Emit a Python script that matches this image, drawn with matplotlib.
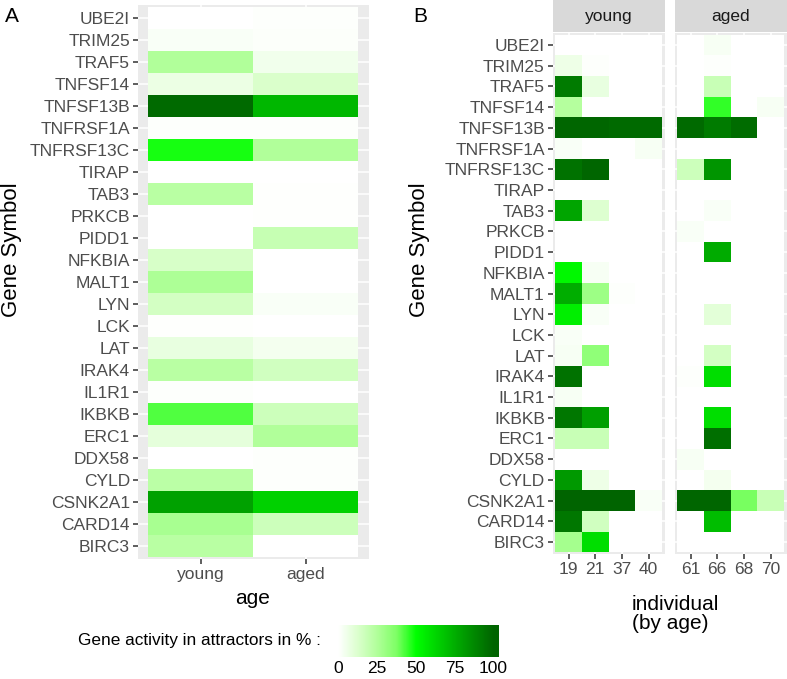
import numpy as np
import matplotlib
matplotlib.use("Agg")
import matplotlib.pyplot as plt
from matplotlib.colors import LinearSegmentedColormap, Normalize

plt.rcParams["font.family"] = ["Liberation Sans", "DejaVu Sans"]

# genes as shown top to bottom
genes = ["UBE2I", "TRIM25", "TRAF5", "TNFSF14", "TNFSF13B", "TNFRSF1A",
         "TNFRSF13C", "TIRAP", "TAB3", "PRKCB", "PIDD1", "NFKBIA", "MALT1",
         "LYN", "LCK", "LAT", "IRAK4", "IL1R1", "IKBKB", "ERC1", "DDX58",
         "CYLD", "CSNK2A1", "CARD14", "BIRC3"]
ages = ["young", "aged"]

# panel A: mean activity (%) per age group
young_mean = [0, 2, 25, 7, 98, 1, 48, 0, 23, 0, 0, 14, 26, 15, 0.5, 8, 23, 1,
              42, 9, 0, 22, 79, 27, 23]
aged_mean = [1, 1.5, 5, 13, 72, 1, 25, 0, 0.5, 0.5, 19, 0, 0, 2, 0, 4, 16, 0,
             17, 25, 1, 1, 64, 17, 0]

# panel B: activity per individual
young_ids = ["19", "21", "37", "40"]
aged_ids = ["61", "66", "68", "70"]
young_ind = [
    [0, 0, 0, 0], [6, 1, 0, 0], [92, 8, 0, 0], [24, 0, 0, 0],
    [99, 99, 98, 98], [2, 0, 0, 3], [95, 99, 0, 0], [0, 0, 0, 0],
    [78, 12, 0, 0], [0, 0, 0, 0], [0, 0, 0, 0], [52, 3, 0, 0],
    [75, 30, 1, 0], [55, 2, 0, 0], [2, 0, 0, 0], [3, 33, 0, 0],
    [95, 0, 0, 0], [3, 0, 0, 0], [93, 80, 0, 0], [18, 18, 0, 0],
    [0, 0, 0, 0], [82, 6, 0, 0], [100, 100, 100, 2], [93, 16, 0, 0],
    [28, 60, 0, 0]]
aged_ind = [
    [0, 3, 0, 0], [0, 1, 0, 0], [0, 18, 0, 0], [0, 45, 0, 3],
    [98, 92, 97, 0], [0, 0, 0, 0], [17, 83, 0, 0], [0, 0, 0, 0],
    [0, 2, 0, 0], [2, 0, 0, 0], [0, 76, 0, 0], [0, 0, 0, 0],
    [0, 0, 0, 0], [0, 10, 0, 0], [0, 0, 0, 0], [0, 15, 0, 0],
    [1, 60, 0, 0], [0, 0, 0, 0], [0, 60, 0, 0], [0, 96, 0, 0],
    [3, 0, 0, 0], [0, 4, 0, 0], [99, 99, 38, 18], [0, 70, 0, 0],
    [0, 0, 0, 0]]

# white -> green -> darkgreen, roughly like ggplot's Lab interpolation
cmap = LinearSegmentedColormap.from_list("grn", [
    (0, "#ffffff"), (0.125, "#dbffcd"), (0.25, "#b1ff9a"), (0.375, "#7dff64"),
    (0.5, "#00ff00"), (0.625, "#00d600"), (0.75, "#00ae00"), (0.875, "#008800"),
    (1, "#006400")])
norm = Normalize(0, 100)

W, H = 787, 679
fig = plt.figure(figsize=(W / 100, H / 100), dpi=100)


def box(l, t, r, b):
    return [l / W, 1 - b / H, (r - l) / W, (b - t) / H]


n = len(genes)
ypos = np.arange(n, 0, -1)  # UBE2I on top


def tiles(ax, mat):
    mat = np.array(mat, dtype=float)
    ncol = mat.shape[1]
    xe = np.arange(ncol + 1) + 0.5
    ye = np.arange(n + 1) + 0.5
    # flip so row 0 (UBE2I) ends up at top
    ax.pcolormesh(xe, ye, mat[::-1], cmap=cmap, norm=norm)
    ax.set_facecolor("#EBEBEB")
    ax.grid(True, color="white", lw=1.1)
    ax.set_axisbelow(True)
    for s in ax.spines.values():
        s.set_visible(False)
    ax.set_xlim(0.4, ncol + 0.6)
    ax.set_ylim(0.4, n + 0.6)
    ax.tick_params(length=3.5, width=1.1, color="#333333", labelcolor="#4D4D4D",
                   labelsize=12.5, pad=2)
    ax.set_xticks(np.arange(1, ncol + 1))
    ax.set_yticks(ypos)


# ---- panel A
axA = fig.add_axes(box(137.6, 4.8, 369, 559))
tiles(axA, np.column_stack([young_mean, aged_mean]))
axA.set_xticklabels(ages)
axA.set_yticklabels(genes)

# ---- panel B (faceted by age group)
axY = fig.add_axes(box(552.5, 32.6, 664.5, 554.4))
tiles(axY, young_ind)
axY.set_xticklabels(young_ids)
axY.set_yticklabels(genes)

axO = fig.add_axes(box(674.5, 32.6, 786.5, 554.4))
tiles(axO, aged_ind)
axO.set_xticklabels(aged_ids)
axO.set_yticklabels([])
axO.tick_params(axis="y", length=0)

# facet strips
for (l, r), lab in zip([(552.5, 664.5), (674.5, 786.5)], ages):
    sax = fig.add_axes(box(l, 0, r, 32))
    sax.set_facecolor("#D9D9D9")
    sax.set_xticks([])
    sax.set_yticks([])
    for s in sax.spines.values():
        s.set_visible(False)
    sax.text(0.5, 0.5, lab, ha="center", va="center", fontsize=12.5,
             color="#1A1A1A", transform=sax.transAxes)

# axis titles and panel tags
fig.text(12 / W, 1 - 250 / H, "Gene Symbol", rotation=90, ha="center",
         va="center", fontsize=16)
fig.text(420 / W, 1 - 250 / H, "Gene Symbol", rotation=90, ha="center",
         va="center", fontsize=16)
fig.text(253 / W, 1 - 598 / H, "age", ha="center", va="center", fontsize=15)
fig.text(632 / W, 1 - 614 / H, "individual\n(by age)", ha="left",
         va="center", fontsize=15, linespacing=0.95)
fig.text(5 / W, 1 - 16 / H, "A", ha="left", va="center", fontsize=15)
fig.text(413 / W, 1 - 16 / H, "B", ha="left", va="center", fontsize=15)

# ---- colour bar legend
cax = fig.add_axes(box(335, 625, 498, 657))
grad = np.linspace(-2, 103, 300)
cax.imshow(grad[None, :], extent=(-2, 103, 0, 1), aspect="auto", cmap=cmap,
           norm=norm)
cax.set_xlim(-2, 103)
cax.set_yticks([])
cax.set_xticks([0, 25, 50, 75, 100])
cax.tick_params(axis="x", length=0, labelsize=12.5, pad=3)
for s in cax.spines.values():
    s.set_visible(False)
fig.text(78 / W, 1 - 641 / H, "Gene activity in attractors in % :",
         ha="left", va="center", fontsize=12.4)

fig.savefig("out.png", dpi=100)
